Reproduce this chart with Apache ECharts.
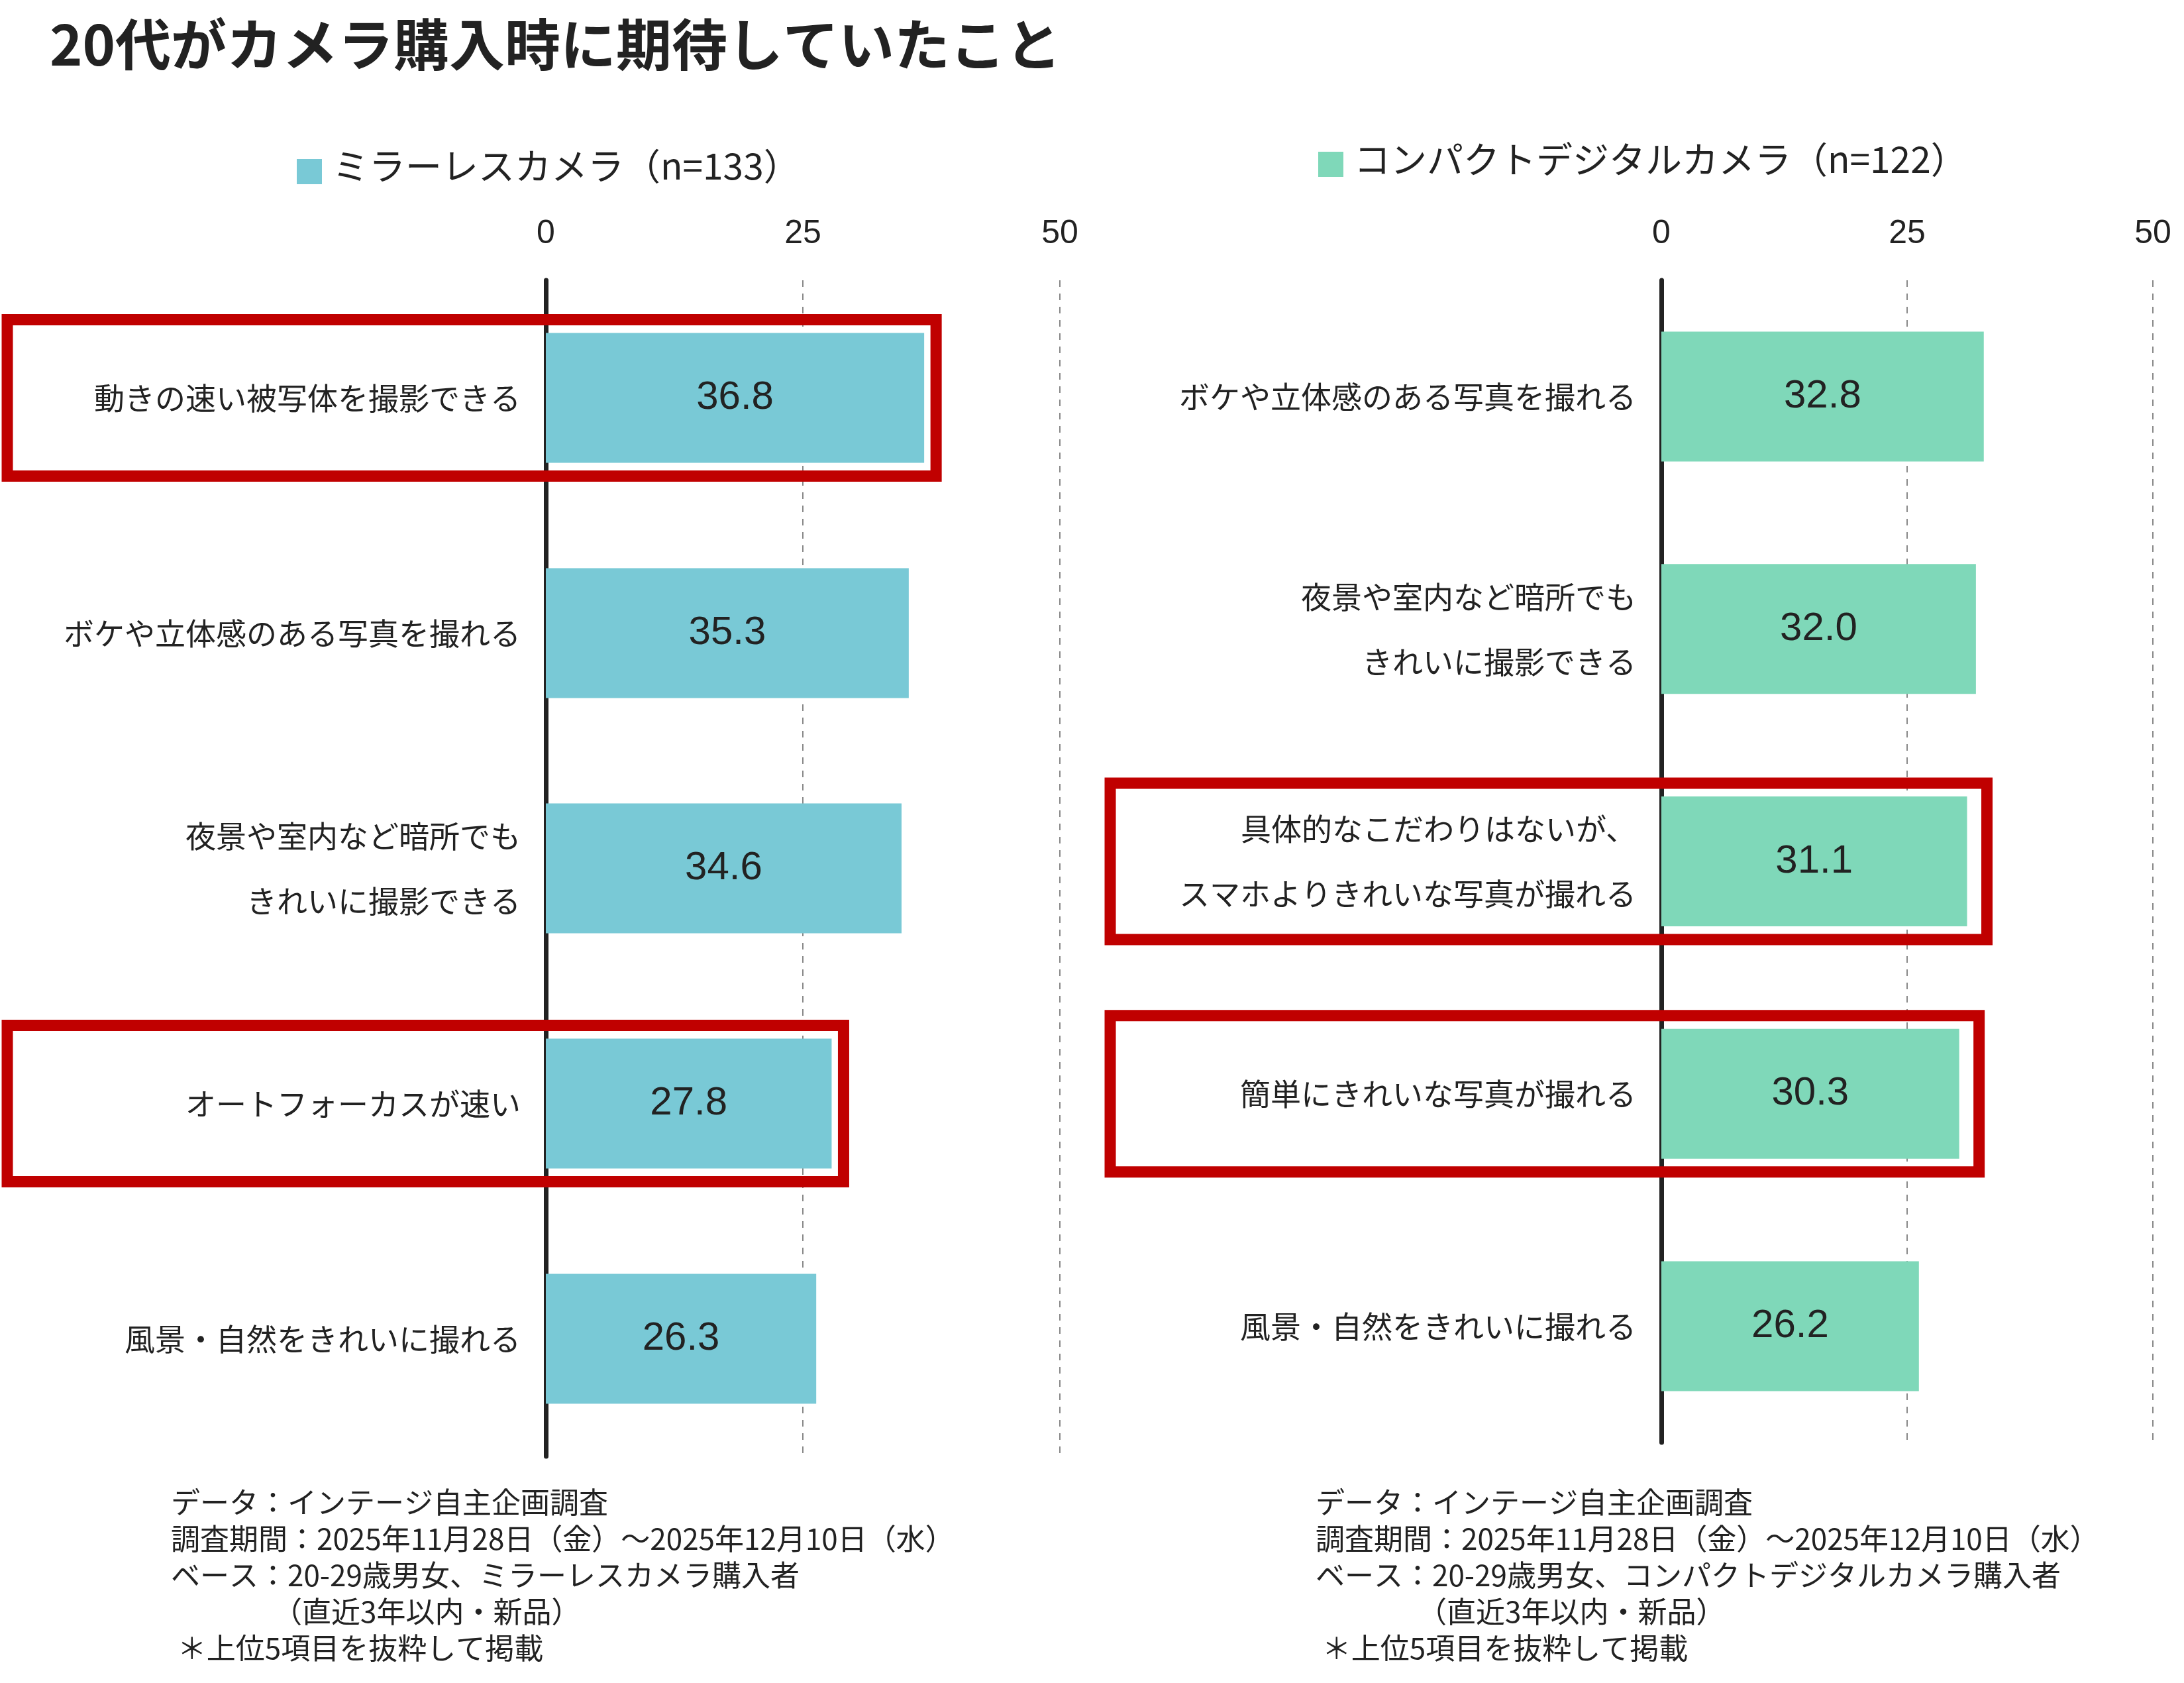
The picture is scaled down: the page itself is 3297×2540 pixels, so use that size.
<!DOCTYPE html>
<html><head><meta charset="utf-8">
<script src="https://cdn.jsdelivr.net/npm/echarts@6/dist/echarts.min.js"></script>
<style>html,body{margin:0;padding:0;background:#fff}#c{width:3297px;height:2540px}</style>
</head><body><div id="c"></div>
<script>
const leftCategories = ['動きの速い被写体を撮影できる','ボケや立体感のある写真を撮れる','夜景や室内など暗所でも\nきれいに撮影できる','オートフォーカスが速い','風景・自然をきれいに撮れる'];
const leftValues = [36.8, 35.3, 34.6, 27.8, 26.3];
const leftHighlight = [0, 3];
const rightCategories = ['ボケや立体感のある写真を撮れる','夜景や室内など暗所でも\nきれいに撮影できる','具体的なこだわりはないが、\nスマホよりきれいな写真が撮れる','簡単にきれいな写真が撮れる','風景・自然をきれいに撮れる'];
const rightValues = [32.8, 32.0, 31.1, 30.3, 26.2];
const rightHighlight = [2, 3];
const xTicks = [0, 25, 50];
const leftLegend = 'ミラーレスカメラ（n=133）';
const rightLegend = 'コンパクトデジタルカメラ（n=122）';
const noteLeft = 'データ：インテージ自主企画調査\n調査期間：2025年11月28日（金）～2025年12月10日（水）\nベース：20-29歳男女、ミラーレスカメラ購入者\n　　　　（直近3年以内・新品）\n ＊上位5項目を抜粋して掲載';
const noteRight = 'データ：インテージ自主企画調査\n調査期間：2025年11月28日（金）～2025年12月10日（水）\nベース：20-29歳男女、コンパクトデジタルカメラ購入者\n　　　　（直近3年以内・新品）\n ＊上位5項目を抜粋して掲載';

const F = '"Noto Sans CJK JP","Noto Sans",sans-serif';
const chart = echarts.init(document.getElementById('c'));
function xAx(gi){return {gridIndex:gi,type:'value',min:0,max:50,interval:25,position:'top',
  axisLine:{show:false},axisTick:{show:false},
  axisLabel:{fontSize:50,color:'#222',fontFamily:'Arial,Liberation Sans',margin:45},
  splitLine:{show:true,lineStyle:{type:[10,10],color:'#888',width:2}}};}
function yAx(gi,cats){return {gridIndex:gi,type:'category',inverse:true,data:cats,
  axisLine:{show:true,lineStyle:{color:'#222',width:7,cap:'round'}},axisTick:{show:false},
  axisLabel:{fontSize:46,color:'#222',fontFamily:F,margin:38,lineHeight:98,align:'right'}};}
function ser(gi,vals,color){return {type:'bar',xAxisIndex:gi,yAxisIndex:gi,data:vals,barWidth:196,
  itemStyle:{color:color},z:3,
  label:{show:true,position:'inside',formatter:p=>p.value.toFixed(1),fontSize:60,color:'#222',fontFamily:'Arial,Liberation Sans'}};}
chart.setOption({
  animation:false,
  title:{text:'20代がカメラ購入時に期待していたこと',left:70,top:20,textStyle:{fontSize:84,fontWeight:'bold',color:'#222',fontFamily:F}},
  grid:[{left:824,width:776,top:423,height:1775},{left:2508,width:742,top:423,height:1754}],
  xAxis:[xAx(0),xAx(1)],
  yAxis:[yAx(0,leftCategories),yAx(1,rightCategories)],
  series:[ser(0,leftValues,'#79C9D6'),ser(1,rightValues,'#7FD8B9')]
});
function boxes(gi,cats,vals,hl,leftX,extra){
  return hl.map(i=>{
    const c=chart.convertToPixel({gridIndex:gi},[vals[i],cats[i]]);
    const x2=c[0]+extra;
    return {type:'rect',shape:{x:leftX,y:c[1]-118,width:x2-leftX,height:236},
      style:{fill:'none',stroke:'#C00000',lineWidth:17},z:10};
  });
}
const g=[
  {type:'rect',shape:{x:448,y:240,width:38,height:38},style:{fill:'#79C9D6'}},
  {type:'text',x:502,y:250,style:{text:leftLegend,fontSize:55,fill:'#222',fontFamily:F,textVerticalAlign:'middle'}},
  {type:'rect',shape:{x:1990,y:229,width:38,height:38},style:{fill:'#7FD8B9'}},
  {type:'text',x:2044,y:240,style:{text:rightLegend,fontSize:55,fill:'#222',fontFamily:F,textVerticalAlign:'middle'}},
  {type:'text',x:258,y:2240,style:{text:noteLeft,fontSize:44,lineHeight:55,fill:'#222',fontFamily:F}},
  {type:'text',x:1986,y:2240,style:{text:noteRight,fontSize:44,lineHeight:55,fill:'#222',fontFamily:F}}
].concat(boxes(0,leftCategories,leftValues,leftHighlight,11,18)).concat(boxes(1,rightCategories,rightValues,rightHighlight,1676,30));
chart.setOption({graphic:g});
</script></body></html>
